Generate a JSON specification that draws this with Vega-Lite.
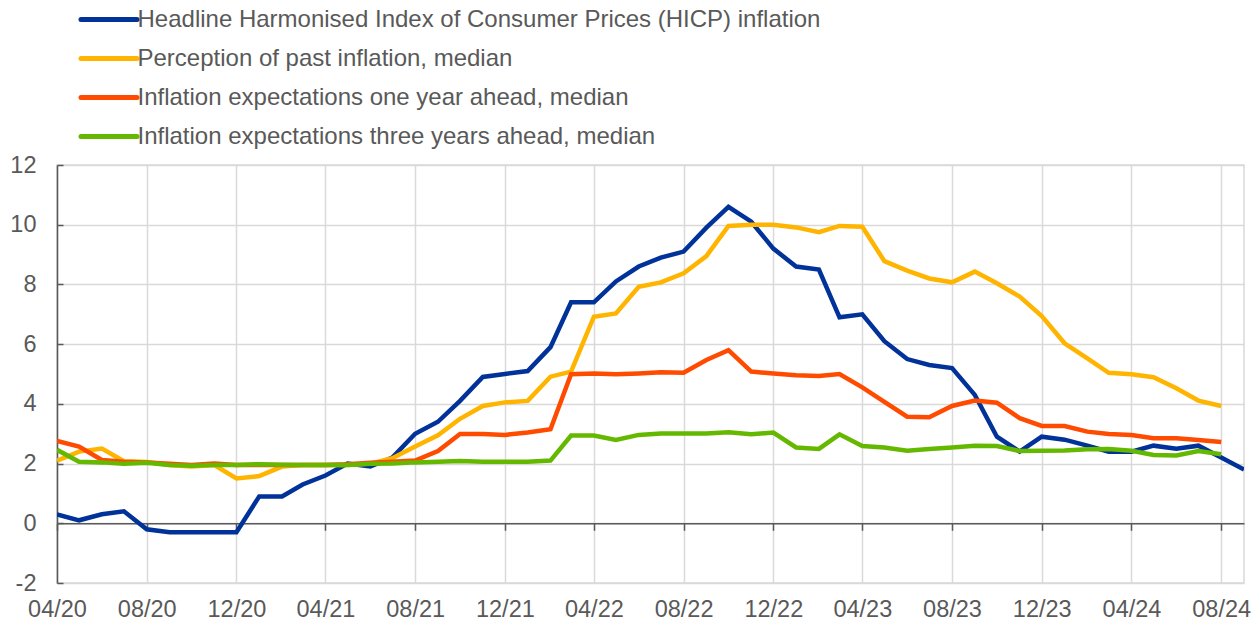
{
  "$schema": "https://vega.github.io/schema/vega-lite/v6.json",
  "width": 1187,
  "height": 418,
  "autosize": {"type": "none"},
  "padding": {"left": 57, "top": 165, "right": 11, "bottom": 40},
  "background": "white",
  "config": {
    "font": "Liberation Sans",
    "view": {"stroke": "#d9d9d9", "strokeWidth": 1.5},
    "axis": {"labelFont": "Liberation Sans", "labelFontSize": 23.5, "labelColor": "#595959", "gridColor": "#d9d9d9", "gridWidth": 1.5, "title": null}
  },
  "data": {
    "values": [
      {"date":"2020-04-01","hicp":0.3,"past":2.1,"one":2.76,"three":2.46},
      {"date":"2020-05-01","hicp":0.1,"past":2.4,"one":2.57,"three":2.06},
      {"date":"2020-06-01","hicp":0.3,"past":2.5,"one":2.12,"three":2.04},
      {"date":"2020-07-01","hicp":0.4,"past":2.08,"one":2.06,"three":1.99},
      {"date":"2020-08-01","hicp":-0.2,"past":2.05,"one":2.04,"three":2.03},
      {"date":"2020-09-01","hicp":-0.3,"past":1.95,"one":1.99,"three":1.95},
      {"date":"2020-10-01","hicp":-0.3,"past":1.9,"one":1.95,"three":1.93},
      {"date":"2020-11-01","hicp":-0.3,"past":1.95,"one":2.0,"three":1.95},
      {"date":"2020-12-01","hicp":-0.3,"past":1.5,"one":1.95,"three":1.95},
      {"date":"2021-01-01","hicp":0.9,"past":1.58,"one":1.95,"three":1.98},
      {"date":"2021-02-01","hicp":0.9,"past":1.9,"one":1.95,"three":1.96},
      {"date":"2021-03-01","hicp":1.3,"past":1.95,"one":1.95,"three":1.95},
      {"date":"2021-04-01","hicp":1.6,"past":1.95,"one":1.95,"three":1.95},
      {"date":"2021-05-01","hicp":2.0,"past":1.95,"one":1.98,"three":1.95},
      {"date":"2021-06-01","hicp":1.9,"past":2.0,"one":2.03,"three":1.99},
      {"date":"2021-07-01","hicp":2.2,"past":2.18,"one":2.06,"three":2.0},
      {"date":"2021-08-01","hicp":3.0,"past":2.57,"one":2.1,"three":2.04},
      {"date":"2021-09-01","hicp":3.4,"past":2.95,"one":2.42,"three":2.06},
      {"date":"2021-10-01","hicp":4.1,"past":3.5,"one":2.99,"three":2.09},
      {"date":"2021-11-01","hicp":4.9,"past":3.93,"one":2.99,"three":2.06},
      {"date":"2021-12-01","hicp":5.0,"past":4.05,"one":2.96,"three":2.06},
      {"date":"2022-01-01","hicp":5.1,"past":4.1,"one":3.04,"three":2.06},
      {"date":"2022-02-01","hicp":5.9,"past":4.91,"one":3.15,"three":2.1},
      {"date":"2022-03-01","hicp":7.4,"past":5.08,"one":4.99,"three":2.94},
      {"date":"2022-04-01","hicp":7.4,"past":6.92,"one":5.02,"three":2.94},
      {"date":"2022-05-01","hicp":8.1,"past":7.03,"one":4.99,"three":2.79},
      {"date":"2022-06-01","hicp":8.6,"past":7.92,"one":5.02,"three":2.96},
      {"date":"2022-07-01","hicp":8.9,"past":8.07,"one":5.06,"three":3.01},
      {"date":"2022-08-01","hicp":9.1,"past":8.37,"one":5.04,"three":3.01},
      {"date":"2022-09-01","hicp":9.9,"past":8.95,"one":5.47,"three":3.01},
      {"date":"2022-10-01","hicp":10.6,"past":9.96,"one":5.8,"three":3.05},
      {"date":"2022-11-01","hicp":10.1,"past":10.0,"one":5.08,"three":2.98},
      {"date":"2022-12-01","hicp":9.2,"past":10.0,"one":5.02,"three":3.04},
      {"date":"2023-01-01","hicp":8.6,"past":9.91,"one":4.96,"three":2.54},
      {"date":"2023-02-01","hicp":8.5,"past":9.75,"one":4.93,"three":2.49},
      {"date":"2023-03-01","hicp":6.9,"past":9.96,"one":5.0,"three":2.98},
      {"date":"2023-04-01","hicp":7.0,"past":9.93,"one":4.55,"three":2.59},
      {"date":"2023-05-01","hicp":6.1,"past":8.78,"one":4.07,"three":2.54},
      {"date":"2023-06-01","hicp":5.5,"past":8.46,"one":3.57,"three":2.43},
      {"date":"2023-07-01","hicp":5.3,"past":8.2,"one":3.55,"three":2.49},
      {"date":"2023-08-01","hicp":5.2,"past":8.07,"one":3.93,"three":2.54},
      {"date":"2023-09-01","hicp":4.3,"past":8.43,"one":4.11,"three":2.6},
      {"date":"2023-10-01","hicp":2.9,"past":8.04,"one":4.04,"three":2.59},
      {"date":"2023-11-01","hicp":2.4,"past":7.59,"one":3.52,"three":2.42},
      {"date":"2023-12-01","hicp":2.9,"past":6.94,"one":3.26,"three":2.43},
      {"date":"2024-01-01","hicp":2.8,"past":6.03,"one":3.26,"three":2.44},
      {"date":"2024-02-01","hicp":2.6,"past":5.52,"one":3.07,"three":2.48},
      {"date":"2024-03-01","hicp":2.4,"past":5.04,"one":2.99,"three":2.49},
      {"date":"2024-04-01","hicp":2.4,"past":4.99,"one":2.96,"three":2.43},
      {"date":"2024-05-01","hicp":2.6,"past":4.89,"one":2.85,"three":2.29},
      {"date":"2024-06-01","hicp":2.5,"past":4.52,"one":2.85,"three":2.27},
      {"date":"2024-07-01","hicp":2.6,"past":4.11,"one":2.79,"three":2.42},
      {"date":"2024-08-01","hicp":2.2,"past":3.93,"one":2.72,"three":2.31},
      {"date":"2024-09-01","hicp":1.8,"past":null,"one":null,"three":null}
    ],
    "format": {"parse": {"date": "utc:'%Y-%m-%d'"}}
  },
  "transform": [
    {"fold": ["hicp", "past", "one", "three"], "as": ["series", "value"]}
  ],
  "mark": {"type": "line", "strokeWidth": 4.5, "strokeJoin": "miter", "clip": true},
  "encoding": {
    "x": {
      "field": "date",
      "type": "temporal",
      "scale": {"type": "utc", "domain": [{"year": 2020, "month": 4, "date": 1, "utc": true}, {"year": 2024, "month": 9, "date": 1, "utc": true}]},
      "axis": {
        "orient": "bottom",
        "offset": -59.714,
        "format": "%m/%y",
        "values": [
          {"year": 2020, "month": 4, "date": 1, "utc": true},
          {"year": 2020, "month": 8, "date": 1, "utc": true},
          {"year": 2020, "month": 12, "date": 1, "utc": true},
          {"year": 2021, "month": 4, "date": 1, "utc": true},
          {"year": 2021, "month": 8, "date": 1, "utc": true},
          {"year": 2021, "month": 12, "date": 1, "utc": true},
          {"year": 2022, "month": 4, "date": 1, "utc": true},
          {"year": 2022, "month": 8, "date": 1, "utc": true},
          {"year": 2022, "month": 12, "date": 1, "utc": true},
          {"year": 2023, "month": 4, "date": 1, "utc": true},
          {"year": 2023, "month": 8, "date": 1, "utc": true},
          {"year": 2023, "month": 12, "date": 1, "utc": true},
          {"year": 2024, "month": 4, "date": 1, "utc": true},
          {"year": 2024, "month": 8, "date": 1, "utc": true}
        ],
        "domain": true,
        "domainColor": "#595959",
        "domainWidth": 1.5,
        "ticks": true,
        "tickColor": "#595959",
        "tickWidth": 1.5,
        "tickSize": 7,
        "labelPadding": 67,
        "labelBaseline": "top",
        "labelAngle": 0,
        "labelFlush": false,
        "labelOverlap": false,
        "grid": true
      }
    },
    "y": {
      "field": "value",
      "type": "quantitative",
      "scale": {"domain": [-2, 12], "nice": false, "zero": false},
      "axis": {
        "values": [-2, 0, 2, 4, 6, 8, 10, 12],
        "labelExpr": "'' + datum.value",
        "domain": true,
        "domainColor": "#595959",
        "domainWidth": 1.5,
        "ticks": true,
        "tickColor": "#595959",
        "tickWidth": 1.5,
        "tickSize": -6,
        "labelPadding": 27,
        "labelFlush": false,
        "grid": true
      }
    },
    "color": {
      "field": "series",
      "type": "nominal",
      "sort": ["hicp", "past", "one", "three"],
      "scale": {"domain": ["hicp", "past", "one", "three"], "range": ["#003299", "#ffb400", "#ff4b00", "#65b800"]},
      "legend": {
        "orient": "none",
        "legendX": 35.5,
        "legendY": -162,
        "title": null,
        "direction": "vertical",
        "symbolType": "M-2,0H2",
        "symbolSize": 784,
        "symbolStrokeWidth": 5,
        "labelFont": "Liberation Sans",
        "labelFontSize": 24,
        "labelColor": "#595959",
        "labelLimit": 1000,
        "labelOffset": 12,
        "rowPadding": 10,
        "labelExpr": "datum.value == 'hicp' ? 'Headline Harmonised Index of Consumer Prices (HICP) inflation' : datum.value == 'past' ? 'Perception of past inflation, median' : datum.value == 'one' ? 'Inflation expectations one year ahead, median' : 'Inflation expectations three years ahead, median'",
        "encode": {"symbols": {"update": {"strokeCap": {"value": "round"}}}}
      }
    }
  }
}
